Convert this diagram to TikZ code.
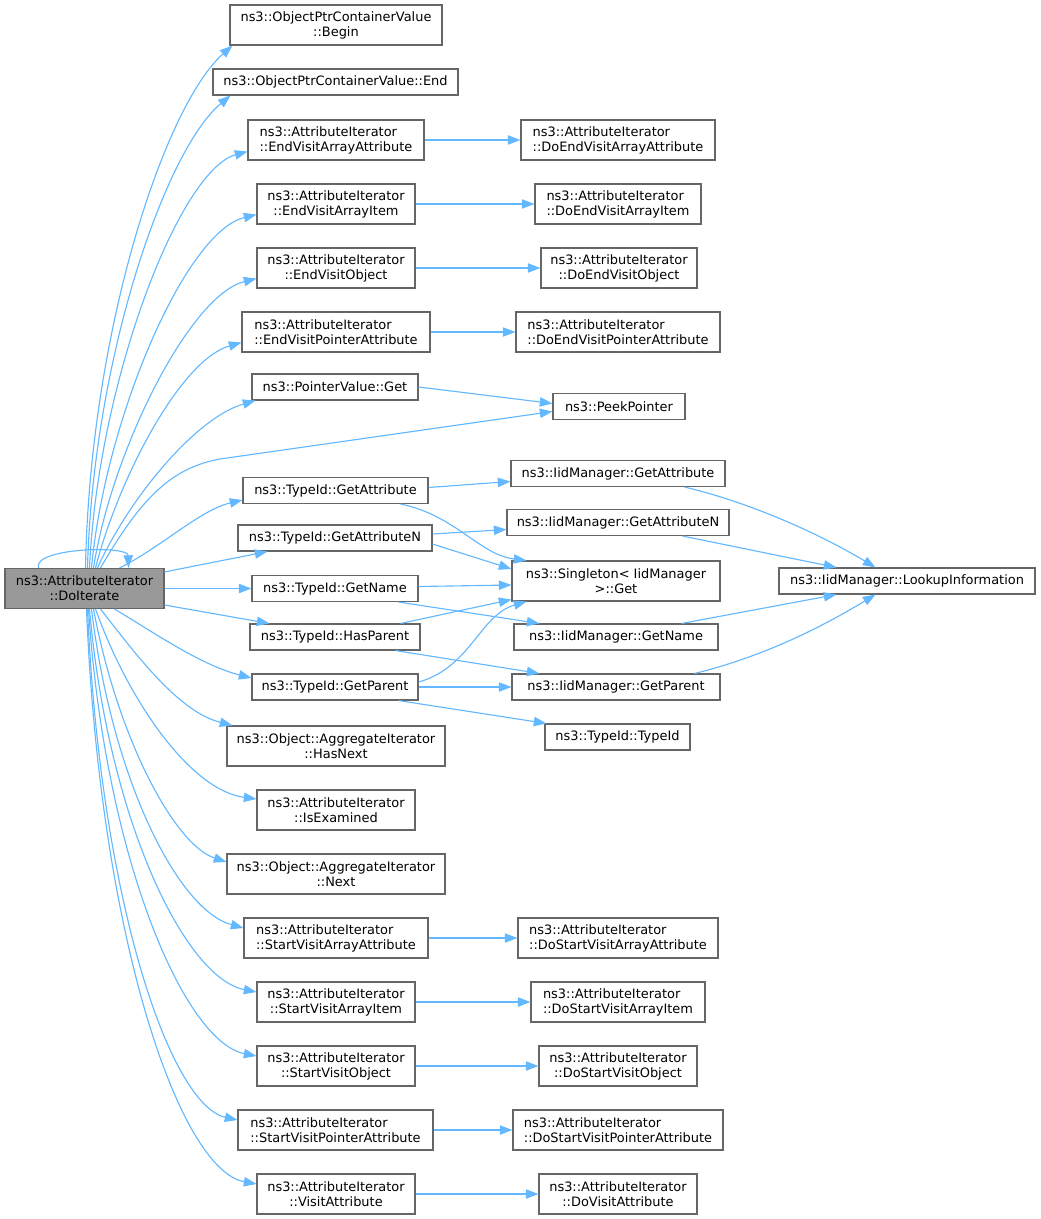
\documentclass[tikz,border=0pt]{standalone}
\usepackage{fontspec}
\setmainfont{DejaVu Sans}
\usetikzlibrary{arrows.meta,calc}
\definecolor{callblue}{HTML}{63B8FF}
\definecolor{boxgray}{HTML}{666666}
\definecolor{rootfill}{HTML}{999999}
\tikzset{
	fn/.style={rectangle, draw=boxgray, fill=white, line width=0.8pt, inner sep=0pt, minimum height=19.5pt, align=center, font=\fontsize{9.7}{11.25}\selectfont},
	fntwo/.style={fn, minimum height=30pt},
	call/.style={draw=callblue, line width=0.85pt, -{Triangle[length=9.5pt,width=7pt]}}
}
\begin{document}
\begin{tikzpicture}[x=0.75pt,y=-0.75pt]
	\useasboundingbox (0,0) rectangle (1040,1219);
	% caller
	\node[fntwo, fill=rootfill, minimum width=119.25pt](doit) at (84.5,588.5){ns3::AttributeIterator\\::DoIterate};
	% first level
	\node[fntwo, minimum width=159pt](begin) at (336,25){ns3::ObjectPtrContainerValue\\::Begin};
	\node[fn, minimum width=183.75pt](end) at (335.5,82){ns3::ObjectPtrContainerValue::End};
	\node[fntwo, align=left, minimum width=132pt](evaa) at (336,140){ns3::AttributeIterator\\::EndVisitArrayAttribute};
	\node[fntwo, minimum width=118.5pt](evai) at (336,204){ns3::AttributeIterator\\::EndVisitArrayItem};
	\node[fntwo, minimum width=118.5pt](evo) at (336,268){ns3::AttributeIterator\\::EndVisitObject};
	\node[fntwo, align=left, minimum width=141pt](evpa) at (336,332){ns3::AttributeIterator\\::EndVisitPointerAttribute};
	\node[fn, minimum width=124.5pt](pvget) at (335,387){ns3::PointerValue::Get};
	\node[fn, minimum width=138.75pt](tgattr) at (335.5,490.5){ns3::TypeId::GetAttribute};
	\node[fn, minimum width=145.5pt](tgattrn) at (335,538){ns3::TypeId::GetAttributeN};
	\node[fn, minimum width=124.5pt](tgname) at (335,588.5){ns3::TypeId::GetName};
	\node[fn, minimum width=127.5pt](thas) at (335,637){ns3::TypeId::HasParent};
	\node[fn, minimum width=124.5pt](tgpar) at (335,687){ns3::TypeId::GetParent};
	\node[fntwo, minimum width=163.5pt](hasnext) at (336,746){ns3::Object::AggregateIterator\\::HasNext};
	\node[fntwo, minimum width=118.5pt](isex) at (336,810){ns3::AttributeIterator\\::IsExamined};
	\node[fntwo, minimum width=163.5pt](next) at (336,874){ns3::Object::AggregateIterator\\::Next};
	\node[fntwo, align=left, minimum width=138pt](svaa) at (336,938){ns3::AttributeIterator\\::StartVisitArrayAttribute};
	\node[fntwo, minimum width=118.5pt](svai) at (336,1002){ns3::AttributeIterator\\::StartVisitArrayItem};
	\node[fntwo, minimum width=118.5pt](svo) at (336,1066){ns3::AttributeIterator\\::StartVisitObject};
	\node[fntwo, align=left, minimum width=146.25pt](svpa) at (335.5,1130){ns3::AttributeIterator\\::StartVisitPointerAttribute};
	\node[fntwo, minimum width=118.5pt](visit) at (336,1194){ns3::AttributeIterator\\::VisitAttribute};
	% second level
	\node[fntwo, align=left, minimum width=145.5pt](doevaa) at (618,140){ns3::AttributeIterator\\::DoEndVisitArrayAttribute};
	\node[fntwo, align=left, minimum width=124.5pt](doevai) at (618,204){ns3::AttributeIterator\\::DoEndVisitArrayItem};
	\node[fntwo, minimum width=117pt](doevo) at (619,268){ns3::AttributeIterator\\::DoEndVisitObject};
	\node[fntwo, align=left, minimum width=153pt](doevpa) at (618,332){ns3::AttributeIterator\\::DoEndVisitPointerAttribute};
	\node[fn, minimum width=99pt](peek) at (619,406.5){ns3::PeekPointer};
	\node[fn, minimum width=160.5pt](igattr) at (618,473.5){ns3::IidManager::GetAttribute};
	\node[fn, minimum width=166.5pt](igattrn) at (618,522.5){ns3::IidManager::GetAttributeN};
	\node[fntwo, minimum width=156pt](single) at (616,581){ns3::Singleton< IidManager\\>::Get};
	\node[fn, minimum width=153pt](igname) at (616,637){ns3::IidManager::GetName};
	\node[fn, minimum width=156pt](igpar) at (616,687){ns3::IidManager::GetParent};
	\node[fn, minimum width=108.75pt](ttid) at (617.5,737){ns3::TypeId::TypeId};
	\node[fntwo, align=left, minimum width=150pt](dosvaa) at (618,938){ns3::AttributeIterator\\::DoStartVisitArrayAttribute};
	\node[fntwo, align=left, minimum width=130.5pt](dosvai) at (618,1002){ns3::AttributeIterator\\::DoStartVisitArrayItem};
	\node[fntwo, minimum width=118.5pt](dosvo) at (618,1066){ns3::AttributeIterator\\::DoStartVisitObject};
	\node[fntwo, align=left, minimum width=157.5pt](dosvpa) at (618,1130){ns3::AttributeIterator\\::DoStartVisitPointerAttribute};
	\node[fntwo, minimum width=118.5pt](dovisit) at (618,1194){ns3::AttributeIterator\\::DoVisitAttribute};
	% third level
	\node[fn, minimum width=192pt](lookup) at (907,581){ns3::IidManager::LookupInformation};
	% calls going up
	\draw[call] ($(doit.north)+(1,0)$) .. controls (90,330) and (165,105) .. ($(begin.south west)+(3,0)$);
	\draw[call] ($(doit.north)+(3,0)$) .. controls (93,360) and (165,150) .. ($(end.south west)+(18,0)$);
	\draw[call] ($(doit.north)+(5,0)$) .. controls (98,380) and (180,170) .. ($(evaa.south west)+(0,-9)$);
	\draw[call] ($(doit.north)+(7,0)$) .. controls (105,420) and (185,232) .. ($(evai.south west)+(0,-10)$);
	\draw[call] ($(doit.north)+(9,0)$) .. controls (112,450) and (190,295) .. ($(evo.south west)+(0,-10)$);
	\draw[call] ($(doit.north)+(11,0)$) .. controls (118,480) and (180,360) .. ($(evpa.south west)+(0,-10)$);
	\draw[call] ($(doit.north)+(13,0)$) .. controls (128,500) and (195,418) .. ($(pvget.south west)+(4,0)$);
	\draw[call] ($(doit.north)+(16,0)$) .. controls (140,500) and (170,468) .. (220,459) -- ($(peek.west)+(0,5)$);
	\draw[call] ($(doit.north)+(35,0)$) .. controls (160,548) and (200,510) .. ($(tgattr.south west)+(0,-4)$);
	\draw[call] ($(doit.north)+(-46,0)$) .. controls (32,548) and (128,545) .. ($(doit.north)+(44,0)$);
	% calls going right
	\draw[call] ($(doit.north east)+(0,4)$) -- ($(tgattrn.south west)+(30,0)$);
	\draw[call] (doit.east) -- (tgname.west);
	\draw[call] ($(doit.south east)+(0,-4)$) -- ($(thas.north west)+(20,0)$);
	\draw[call] ($(doit.south)+(30,0)$) .. controls (150,630) and (200,665) .. ($(tgpar.west)+(0,-9)$);
	% calls going down
	\draw[call] ($(doit.south)+(16,0)$) .. controls (140,660) and (180,712) .. ($(hasnext.north west)+(6,0)$);
	\draw[call] ($(doit.south)+(11,0)$) .. controls (128,700) and (190,790) .. ($(isex.west)+(0,-11)$);
	\draw[call] ($(doit.south)+(9,0)$) .. controls (118,740) and (175,845) .. ($(next.west)+(0,-12)$);
	\draw[call] ($(doit.south)+(7,0)$) .. controls (112,780) and (178,910) .. ($(svaa.west)+(0,-10)$);
	\draw[call] ($(doit.south)+(5,0)$) .. controls (108,820) and (185,978) .. ($(svai.west)+(0,-10)$);
	\draw[call] ($(doit.south)+(4,0)$) .. controls (105,860) and (185,1042) .. ($(svo.west)+(0,-10)$);
	\draw[call] ($(doit.south)+(3,0)$) .. controls (100,900) and (170,1105) .. ($(svpa.west)+(0,-10)$);
	\draw[call] ($(doit.south)+(2,0)$) .. controls (100,940) and (180,1170) .. ($(visit.west)+(0,-10)$);
	% second level calls
	\draw[call] (evaa) -- (doevaa);
	\draw[call] (evai) -- (doevai);
	\draw[call] (evo) -- (doevo);
	\draw[call] (evpa) -- (doevpa);
	\draw[call] (pvget.east) -- ($(peek.west)+(0,-3)$);
	\draw[call] ($(tgattr.east)+(0,-3)$) -- ($(igattr.west)+(0,8)$);
	\draw[call] ($(tgattr.south east)+(-28,0)$) .. controls (455,515) and (480,555) .. ($(single.north west)+(15,0)$);
	\draw[call] ($(tgattrn.east)+(0,-4)$) -- ($(igattrn.west)+(0,7)$);
	\draw[call] ($(tgattrn.east)+(0,6)$) -- ($(single.west)+(0,-12)$);
	\draw[call] ($(tgname.east)+(0,-2)$) -- ($(single.west)+(0,4)$);
	\draw[call] ($(tgname.south east)+(-20,0)$) -- ($(igname.north west)+(26,0)$);
	\draw[call] ($(thas.north east)+(-20,0)$) -- ($(single.south west)+(0,-2)$);
	\draw[call] ($(thas.south east)+(-25,0)$) -- ($(igpar.north west)+(28,0)$);
	\draw[call] ($(tgpar.east)+(0,-5)$) .. controls (470,668) and (480,615) .. ($(single.south west)+(15,0)$);
	\draw[call] (tgpar) -- (igpar);
	\draw[call] ($(tgpar.south east)+(-20,0)$) -- ($(ttid.north west)+(2,0)$);
	\draw[call] (svaa) -- (dosvaa);
	\draw[call] (svai) -- (dosvai);
	\draw[call] (svo) -- (dosvo);
	\draw[call] (svpa) -- (dosvpa);
	\draw[call] (visit) -- (dovisit);
	% third level calls
	\draw[call] ($(igattr.south east)+(-41,0)$) .. controls (760,505) and (830,540) .. ($(lookup.north west)+(97,0)$);
	\draw[call] ($(igattrn.south east)+(-47,0)$) -- ($(lookup.north west)+(58,0)$);
	\draw[call] ($(igname.north east)+(-37,0)$) -- ($(lookup.south west)+(58,0)$);
	\draw[call] ($(igpar.north east)+(-26,0)$) .. controls (770,655) and (830,622) .. ($(lookup.south west)+(97,0)$);
\end{tikzpicture}
\end{document}
